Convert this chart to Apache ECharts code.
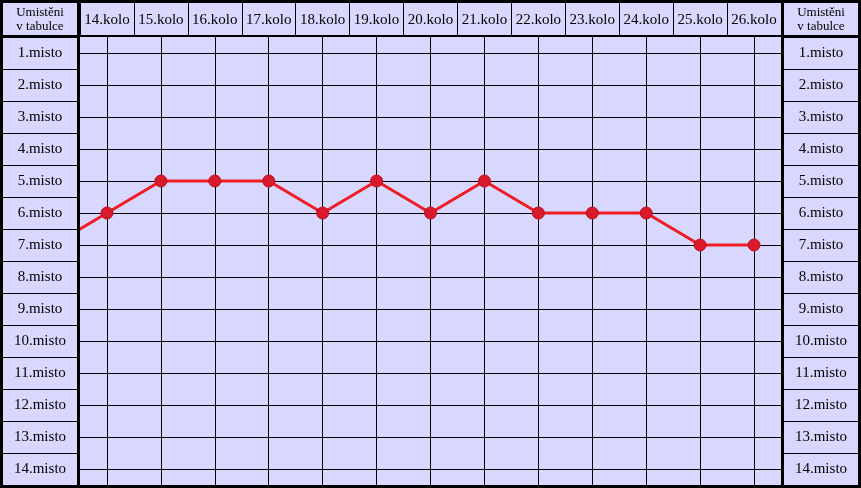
<!DOCTYPE html>
<html>
<head>
<meta charset="utf-8">
<script src="https://cdn.jsdelivr.net/npm/echarts@6/dist/echarts.min.js"></script>
<style>
  html, body { margin: 0; padding: 0; background: #d8d8ff; }
  #chart { width: 861px; height: 488px; }
</style>
</head>
<body>
<div id="chart"></div>
<script>
// rounds, the first one (13.kolo) is only there so the line enters from the left edge
const kola = ['13.kolo', '14.kolo', '15.kolo', '16.kolo', '17.kolo', '18.kolo', '19.kolo',
  '20.kolo', '21.kolo', '22.kolo', '23.kolo', '24.kolo', '25.kolo', '26.kolo'];
const poradi = [7, 6, 5, 5, 5, 6, 5, 6, 5, 6, 6, 6, 7, 7];
const mista = ['1.misto', '2.misto', '3.misto', '4.misto', '5.misto', '6.misto', '7.misto',
  '8.misto', '9.misto', '10.misto', '11.misto', '12.misto', '13.misto', '14.misto'];
const rohText = 'Umistěni\nv tabulce';

const bg = '#d8d8ff';
const font = 'Liberation Serif';

const chart = echarts.init(document.getElementById('chart'));

const black = {color: '#000', width: 1};
const label = (extra) => Object.assign({
  show: true, color: '#000', fontFamily: font, fontSize: 15, interval: 0
}, extra);

// thick black frame of the table
const bar = (x, y, width, height) => ({
  type: 'rect', z: 10, silent: true, shape: {x, y, width, height}, style: {fill: '#000'}
});
const frame = [
  bar(0, 0, 861, 3), bar(0, 485, 861, 3), bar(0, 0, 3, 488), bar(858, 0, 3, 488),
  bar(77, 0, 3, 488), bar(781, 0, 3, 488), bar(0, 35, 861, 2)
];
const roh = (x) => ({
  type: 'text', x, y: 20, z: 11, style: {
    text: rohText, align: 'center', verticalAlign: 'middle',
    font: '13px "Liberation Serif"', lineHeight: 14, fill: '#000'
  }
});

chart.setOption({
  backgroundColor: bg,
  animation: false,
  grid: {left: 80, top: 37, width: 701, height: 448},
  xAxis: {
    type: 'category', data: kola, min: 1, position: 'top',
    axisLine: {show: false},
    // ticks at the band edges reach up through the header as column separators
    axisTick: {show: true, length: 34, interval: 0, lineStyle: black},
    axisLabel: label({margin: 17, verticalAlign: 'middle'}),
    splitLine: {show: true, alignWithLabel: true, lineStyle: black}
  },
  yAxis: [
    {
      type: 'category', data: mista, inverse: true, position: 'left',
      axisLine: {show: false},
      axisTick: {show: true, length: 77, interval: 0, lineStyle: black},
      axisLabel: label({margin: 40, align: 'center', padding: [4, 0, 0, 0]}),
      splitLine: {show: true, alignWithLabel: true, lineStyle: black}
    },
    {
      type: 'category', data: mista, inverse: true, position: 'right',
      axisLine: {show: false},
      axisTick: {show: true, length: 77, interval: 0, lineStyle: black},
      axisLabel: label({margin: 40, align: 'center', padding: [4, 0, 0, 0]}),
      splitLine: {show: false}
    }
  ],
  graphic: frame.concat([roh(40), roh(821)]),
  series: [
    {
      type: 'line',
      data: kola.map((k, i) => [k, mista[poradi[i] - 1]]),
      clip: true,
      symbol: 'circle',
      symbolSize: 12,
      lineStyle: {color: '#ee1c24', width: 3},
      itemStyle: {color: '#d81a2a', borderColor: '#b8101e', borderWidth: 1},
      z: 5
    }
  ]
});
</script>
</body>
</html>
